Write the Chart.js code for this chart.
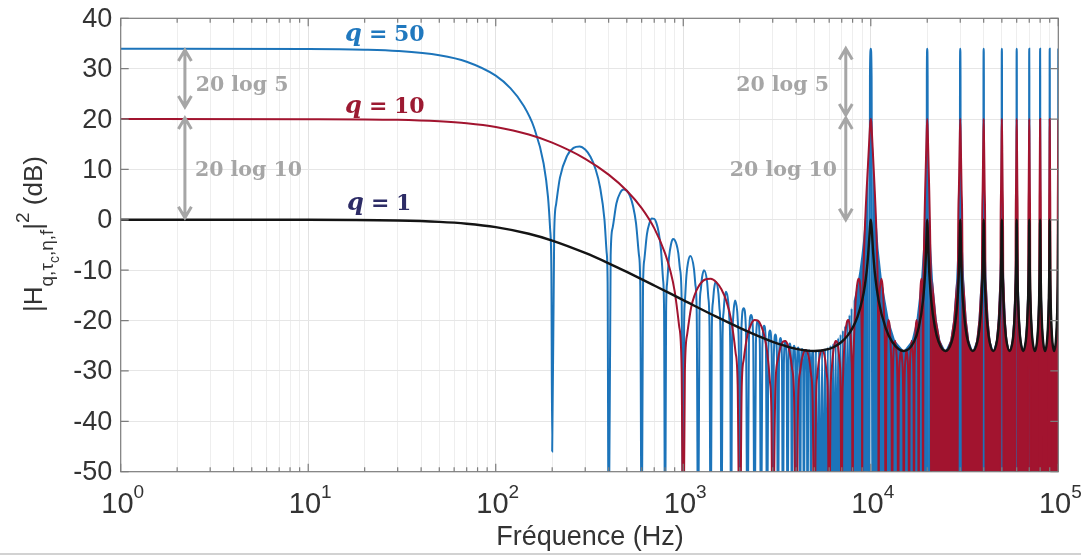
<!DOCTYPE html>
<html>
<head>
<meta charset="utf-8">
<script src="https://cdn.jsdelivr.net/npm/chart.js@4.4.0/dist/chart.umd.min.js"></script>
<style>
  html, body { margin: 0; padding: 0; background: #fff; }
</style>
</head>
<body>
<canvas id="myChart" width="1081" height="555"></canvas>
<script>
// [Hz, dB] points
const blackPts = [
  [1,0],[10,0],[30,-0.15],[50,-0.41],[70,-0.77],[100,-1.45],[150,-2.76],[200,-4.12],[300,-6.58],[400,-8.63],[500,-10.34],[700,-13.03],
  [1000,-15.94],[1500,-19.23],[2000,-21.45],[2500,-23.04],[3000,-24.21],[3500,-25.04],[4000,-25.61],[5000,-26.04],[6000,-25.61],[6500,-25.04],
  [7000,-24.21],[7500,-23.04],[8000,-21.45],[8500,-19.23],[9000,-15.94],[9300,-13.03],[9500,-10.34],[9600,-8.63],[9700,-6.58],[9800,-4.12],
  [9850,-2.76],[9900,-1.45],[9950,-0.41],[10000,0],
  [10100,-1.45],[10300,-6.58],[10500,-10.34],[11000,-15.94],[12000,-21.45],[13000,-24.21],[15000,-26.04],[17000,-24.21],[18000,-21.45],[19000,-15.94],[19500,-10.34],[19700,-6.58],[19900,-1.45],[20000,0],
  [20100,-1.45],[20300,-6.58],[20500,-10.34],[21000,-15.94],[22000,-21.45],[23000,-24.21],[25000,-26.04],[27000,-24.21],[28000,-21.45],[29000,-15.94],[29500,-10.34],[29700,-6.58],[29900,-1.45],[30000,0],
  [30100,-1.45],[30300,-6.58],[30500,-10.34],[31000,-15.94],[32000,-21.45],[33000,-24.21],[35000,-26.04],[37000,-24.21],[38000,-21.45],[39000,-15.94],[39500,-10.34],[39700,-6.58],[39900,-1.45],[40000,0],
  [40100,-1.45],[40300,-6.58],[40500,-10.34],[41000,-15.94],[42000,-21.45],[43000,-24.21],[45000,-26.04],[47000,-24.21],[48000,-21.45],[49000,-15.94],[49500,-10.34],[49700,-6.58],[49900,-1.45],[50000,0],
  [50100,-1.45],[50300,-6.58],[50500,-10.34],[51000,-15.94],[52000,-21.45],[53000,-24.21],[55000,-26.04],[57000,-24.21],[58000,-21.45],[59000,-15.94],[59500,-10.34],[59700,-6.58],[59900,-1.45],[60000,0],
  [60100,-1.45],[60300,-6.58],[60500,-10.34],[61000,-15.94],[62000,-21.45],[63000,-24.21],[65000,-26.04],[67000,-24.21],[68000,-21.45],[69000,-15.94],[69500,-10.34],[69700,-6.58],[69900,-1.45],[70000,0],
  [70100,-1.45],[70300,-6.58],[70500,-10.34],[71000,-15.94],[72000,-21.45],[73000,-24.21],[75000,-26.04],[77000,-24.21],[78000,-21.45],[79000,-15.94],[79500,-10.34],[79700,-6.58],[79900,-1.45],[80000,0],
  [80100,-1.45],[80300,-6.58],[80500,-10.34],[81000,-15.94],[82000,-21.45],[83000,-24.21],[85000,-26.04],[87000,-24.21],[88000,-21.45],[89000,-15.94],[89500,-10.34],[89700,-6.58],[89900,-1.45],[90000,0],
  [90100,-1.45],[90300,-6.58],[90500,-10.34],[91000,-15.94],[92000,-21.45],[93000,-24.21],[95000,-26.04],[97000,-24.21],[98000,-21.45],[99000,-15.94],[99500,-10.34],[99700,-6.58],[99900,-1.45],[100000,0]
];

const redPts = [
  [1,20],[10,19.98],[30,19.85],[50,19.55],[70,19.16],[100,18.41],[150,16.92],[200,15.31],[300,12.11],[400,8.97],[500,5.77],[600,2.33],
  [700,-1.65],[800,-6.65],[850,-9.9],[900,-14.19],[950,-21],[980,-29.5],[1000,-70],
  [1020,-30.1],[1050,-22.66],[1100,-17.52],[1150,-14.92],[1200,-13.37],[1300,-11.9],[1400,-11.7],[1500,-12.37],[1600,-13.83],[1700,-16.19],[1800,-19.85],[1900,-26.26],[1950,-32.6],[2000,-70],
  [2050,-33.3],[2100,-27.76],[2200,-22.85],[2300,-20.72],[2400,-19.91],[2500,-20.03],[2600,-21],[2700,-22.89],[2800,-26.14],[2900,-32.15],[2950,-38],[3000,-70],
  [3100,-32.95],[3200,-27.7],[3300,-25.28],[3400,-24.19],[3500,-24.04],[3600,-24.74],[3700,-26.4],[3800,-29.4],[3900,-35.2],[4000,-70],
  [4100,-35.5],[4200,-30.1],[4300,-27.5],[4500,-25.83],[4700,-27.8],[4800,-30.6],[4900,-36.2],[5000,-70],
  [5100,-36.2],[5200,-30.6],[5300,-27.8],[5500,-25.83],[5700,-27.5],[5800,-30.1],[5900,-35.5],[6000,-70],
  [6100,-35.2],[6200,-29.4],[6300,-26.4],[6400,-24.74],[6500,-24.04],[6600,-24.19],[6700,-25.28],[6800,-27.7],[6900,-32.95],[7000,-70],
  [7050,-38],[7100,-32.15],[7200,-26.14],[7300,-22.89],[7400,-21],[7500,-20.03],[7600,-19.91],[7700,-20.72],[7800,-22.85],[7900,-27.76],[7950,-33.3],[8000,-70],
  [8050,-32.6],[8100,-26.26],[8200,-19.85],[8300,-16.19],[8400,-13.83],[8500,-12.37],[8600,-11.7],[8700,-11.9],[8800,-13.37],[8850,-14.92],[8900,-17.52],[8950,-22.66],[8980,-30.1],[9000,-70],
  [9020,-29.5],[9050,-21],[9100,-14.19],[9150,-9.9],[9200,-6.65],[9300,-1.65],[9400,2.33],[9500,5.77],[9600,8.97],[9700,12.11],[9800,15.31],[9850,16.92],[9900,18.41],[9950,19.55],[10000,20],
  [10050,19.55],[10100,18.41],[10150,16.92],[10200,15.31],[10300,12.11],[10400,8.97],[10500,5.77],[10600,2.33],[10700,-1.65],[10800,-6.65],[10850,-9.9],[10900,-14.19],[10950,-21],[10980,-29.5],[11000,-70],
  [11100,-17.5],[11200,-13.4],[11400,-11.7],[11600,-13.8],[11800,-19.9],[11900,-26.3],[12000,-70],
  [12100,-27.8],[12200,-22.9],[12400,-19.9],[12600,-21],[12800,-26.1],[12900,-32.2],[13000,-70],
  [13100,-33],[13300,-25.3],[13500,-24],[13700,-26.4],[13900,-35.2],[14000,-70],
  [14100,-35.5],[14300,-27.5],[14500,-25.8],[14700,-27.8],[14900,-36.2],[15000,-70],
  [15100,-36.2],[15300,-27.8],[15500,-25.8],[15700,-27.5],[15900,-35.5],[16000,-70],
  [16100,-35.2],[16300,-26.4],[16500,-24],[16700,-25.3],[16900,-33],[17000,-70],
  [17100,-32.2],[17200,-26.1],[17400,-21],[17600,-19.9],[17800,-22.9],[17900,-27.8],[18000,-70],
  [18100,-26.3],[18200,-19.9],[18400,-13.8],[18600,-11.7],[18800,-13.4],[18900,-17.5],[19000,-70],
  [19100,-14.2],[19200,-6.7],[19300,-1.7],[19500,5.8],[19700,12.1],[19850,16.9],[20000,20],[20150,16.9],[20300,12.1],[20500,5.8],[20700,-1.7],[20800,-6.7],[20900,-14.2],[21000,-70],
  [29000,-70],[29200,-6.7],[29500,5.8],[29800,15.3],[30000,20],[30200,15.3],[30500,5.8],[30800,-6.7],[31000,-70],
  [39000,-70],[39200,-6.7],[39500,5.8],[39800,15.3],[40000,20],[40200,15.3],[40500,5.8],[40800,-6.7],[41000,-70],
  [49000,-70],[49200,-6.7],[49500,5.8],[49800,15.3],[50000,20],[50200,15.3],[50500,5.8],[50800,-6.7],[51000,-70],
  [59000,-70],[59200,-6.7],[59500,5.8],[59800,15.3],[60000,20],[60200,15.3],[60500,5.8],[60800,-6.7],[61000,-70],
  [69000,-70],[69200,-6.7],[69500,5.8],[69800,15.3],[70000,20],[70200,15.3],[70500,5.8],[70800,-6.7],[71000,-70],
  [79000,-70],[79200,-6.7],[79500,5.8],[79800,15.3],[80000,20],[80200,15.3],[80500,5.8],[80800,-6.7],[81000,-70],
  [89000,-70],[89200,-6.7],[89500,5.8],[89800,15.3],[90000,20],[90200,15.3],[90500,5.8],[90800,-6.7],[91000,-70],
  [99000,-70],[99200,-6.7],[99500,5.8],[99800,15.3],[100000,20]
];

// red side lobes too dense to separate above 20 kHz: outline of their tops
const redFillPts = [
  [21000,-50],[21100,-17.5],[21400,-11.7],[22450,-19.9],[23450,-23.9],[24500,-25.8],[25500,-25.8],[26550,-23.9],[27550,-19.9],[28600,-11.7],[28900,-17.5],[29000,-50],
  [31000,-50],[31100,-17.5],[31400,-11.7],[32450,-19.9],[33450,-23.9],[34500,-25.8],[35500,-25.8],[36550,-23.9],[37550,-19.9],[38600,-11.7],[38900,-17.5],[39000,-50],
  [41000,-50],[41100,-17.5],[41400,-11.7],[42450,-19.9],[43450,-23.9],[44500,-25.8],[45500,-25.8],[46550,-23.9],[47550,-19.9],[48600,-11.7],[48900,-17.5],[49000,-50],
  [51000,-50],[51100,-17.5],[51400,-11.7],[52450,-19.9],[53450,-23.9],[54500,-25.8],[55500,-25.8],[56550,-23.9],[57550,-19.9],[58600,-11.7],[58900,-17.5],[59000,-50],
  [61000,-50],[61100,-17.5],[61400,-11.7],[62450,-19.9],[63450,-23.9],[64500,-25.8],[65500,-25.8],[66550,-23.9],[67550,-19.9],[68600,-11.7],[68900,-17.5],[69000,-50],
  [71000,-50],[71100,-17.5],[71400,-11.7],[72450,-19.9],[73450,-23.9],[74500,-25.8],[75500,-25.8],[76550,-23.9],[77550,-19.9],[78600,-11.7],[78900,-17.5],[79000,-50],
  [81000,-50],[81100,-17.5],[81400,-11.7],[82450,-19.9],[83450,-23.9],[84500,-25.8],[85500,-25.8],[86550,-23.9],[87550,-19.9],[88600,-11.7],[88900,-17.5],[89000,-50],
  [91000,-50],[91100,-17.5],[91400,-11.7],[92450,-19.9],[93450,-23.9],[94500,-25.8],[95500,-25.8],[96550,-23.9],[97550,-19.9],[98600,-11.7],[98900,-17.5],[99000,-50]
];

const bluePts = [
  [1,33.98],[10,33.92],[20,33.77],[30,33.51],[50,32.66],[70,31.38],[100,28.61],[120,26.08],[140,22.81],[160,18.32],[180,11.18],[190,4.52],[195,-1.83],[198,-10],[200,-46],
  [205,-2.5],[210,3.17],[220,8.38],[240,12.7],[260,14.28],[280,14.57],[300,13.95],[320,12.51],[340,10.15],[360,6.47],[380,0.03],[390,-6.3],[395,-12.5],[400,-70],
  [410,-7.1],[420,-1.6],[440,3.25],[460,5.3],[480,6],[500,5.77],[520,4.7],[540,2.7],[560,-0.7],[580,-6.9],[590,-13.1],[600,-70],
  [610,-13.6],[620,-7.9],[640,-2.9],[660,-0.67],[680,0.24],[700,0.19],[720,-0.7],[740,-2.55],[760,-5.76],[780,-11.8],[790,-18],[800,-70],
  [810,-18.2],[820,-12.6],[840,-7.4],[860,-4.9],[880,-3.8],[900,-4],[940,-6.5],[960,-9.7],[980,-15.6],[1000,-70],
  [1010,-21.9],[1020,-16.3],[1040,-11],[1060,-8.5],[1090,-7.2],[1140,-9.7],[1160,-12.8],[1180,-18.7],[1200,-70],
  [1220,-19.2],[1240,-13.9],[1260,-11.4],[1290,-10],[1340,-12.3],[1360,-15.4],[1380,-21.2],[1400,-70],
  [1420,-21.7],[1440,-16.3],[1460,-13.7],[1490,-12.3],[1540,-14.6],[1560,-17.6],[1580,-23.4],[1600,-70],
  [1620,-23.8],[1640,-18.4],[1660,-15.8],[1690,-14.3],[1740,-16.5],[1760,-19.5],[1780,-25.3],[1800,-70],
  [1820,-25.6],[1840,-20.2],[1860,-17.6],[1890,-16],[1940,-18.2],[1960,-21.1],[1980,-26.9],[2000,-70],
  [2040,-22.2],[2100,-17.56],[2160,-22.2],[2200,-70],
  [2240,-23.5],[2300,-18.88],[2360,-23.5],[2400,-70],
  [2440,-24.6],[2500,-20.03],[2560,-24.6],[2600,-70],
  [2640,-25.6],[2700,-21.05],[2760,-25.6],[2800,-70],
  [2840,-26.5],[2900,-21.95],[2960,-26.5],[3000,-70],
  [3040,-27.3],[3100,-22.75],[3160,-27.3],[3200,-70],
  [3240,-28],[3300,-23.44],[3360,-28],[3400,-70],
  [3440,-28.6],[3500,-24.04],[3560,-28.6],[3600,-70],
  [3640,-29.1],[3700,-24.55],[3760,-29.1],[3800,-70],
  [3840,-29.6],[3900,-24.99],[3960,-29.6],[4000,-70],
  [4040,-29.9],[4100,-25.34],[4160,-29.9],[4200,-70],
  [4240,-30.2],[4300,-25.62],[4360,-30.2],[4400,-70],
  [4440,-30.4],[4500,-25.83],[4560,-30.4],[4600,-70],
  [4640,-30.6],[4700,-25.96],[4760,-30.6],[4800,-70],
  [4840,-30.6],[4900,-26.04],[4960,-30.6],[5000,-70],
  [5100,-26.04],[5200,-70],[5300,-25.96],[5400,-70],[5500,-25.83],[5600,-70],[5700,-25.62],[5800,-70],[5900,-25.34],[6000,-70],
  [6100,-24.99],[6200,-70],[6300,-24.55],[6400,-70],[6500,-24.04],[6600,-70],[6700,-23.44],[6800,-70],[6900,-22.75],[7000,-70],
  [7100,-21.95],[7200,-70],[7300,-21.05],[7400,-70],[7500,-20.03],[7600,-70],[7700,-18.88],[7800,-70],[7900,-17.56],[8000,-70],
  [9800,-70],[9900,28.61],[10000,33.98],[10100,28.61],[10200,-70],
  [19800,-70],[19900,28.61],[20000,33.98],[20100,28.61],[20200,-70],
  [29800,-70],[29900,28.61],[30000,33.98],[30100,28.61],[30200,-70],
  [39800,-70],[39900,28.61],[40000,33.98],[40100,28.61],[40200,-70],
  [49800,-70],[49900,28.61],[50000,33.98],[50100,28.61],[50200,-70],
  [59800,-70],[59900,28.61],[60000,33.98],[60100,28.61],[60200,-70],
  [69800,-70],[69900,28.61],[70000,33.98],[70100,28.61],[70200,-70],
  [79800,-70],[79900,28.61],[80000,33.98],[80100,28.61],[80200,-70],
  [89800,-70],[89900,28.61],[90000,33.98],[90100,28.61],[90200,-70],
  [99800,-70],[99900,28.61],[100000,33.98]
];

// blue side lobes above 8 kHz merge into a solid band: outline of their tops
const blueFillPts = [
  [8000,-50],[8100,-16.1],[8300,-14.4],[8500,-12.4],[8700,-10.1],[8900,-7.3],[9100,-4],[9300,0.2],[9500,5.8],[9720,14.6],[9800,-50],
  [10200,-50],[10280,14.6],[10500,6.2],[10700,0.5],[11000,-5.7],[11500,-12.3],[12500,-20],[13500,-24],[15000,-26],[16500,-24],[17500,-20],[18500,-12.3],[19000,-5.7],[19300,0.5],[19500,6.2],[19720,14.6],[19800,-50],
  [20200,-50],[20280,14.6],[20500,6.2],[20700,0.5],[21000,-5.7],[21500,-12.3],[22500,-20],[23500,-24],[25000,-26],[26500,-24],[27500,-20],[28500,-12.3],[29000,-5.7],[29300,0.5],[29500,6.2],[29720,14.6],[29800,-50],
  [30200,-50],[30280,14.6],[30500,6.2],[30700,0.5],[31000,-5.7],[31500,-12.3],[32500,-20],[33500,-24],[35000,-26],[36500,-24],[37500,-20],[38500,-12.3],[39000,-5.7],[39300,0.5],[39500,6.2],[39720,14.6],[39800,-50],
  [40200,-50],[40280,14.6],[40500,6.2],[40700,0.5],[41000,-5.7],[41500,-12.3],[42500,-20],[43500,-24],[45000,-26],[46500,-24],[47500,-20],[48500,-12.3],[49000,-5.7],[49300,0.5],[49500,6.2],[49720,14.6],[49800,-50],
  [50200,-50],[50280,14.6],[50500,6.2],[50700,0.5],[51000,-5.7],[51500,-12.3],[52500,-20],[53500,-24],[55000,-26],[56500,-24],[57500,-20],[58500,-12.3],[59000,-5.7],[59300,0.5],[59500,6.2],[59720,14.6],[59800,-50],
  [60200,-50],[60280,14.6],[60500,6.2],[60700,0.5],[61000,-5.7],[61500,-12.3],[62500,-20],[63500,-24],[65000,-26],[66500,-24],[67500,-20],[68500,-12.3],[69000,-5.7],[69300,0.5],[69500,6.2],[69720,14.6],[69800,-50],
  [70200,-50],[70280,14.6],[70500,6.2],[70700,0.5],[71000,-5.7],[71500,-12.3],[72500,-20],[73500,-24],[75000,-26],[76500,-24],[77500,-20],[78500,-12.3],[79000,-5.7],[79300,0.5],[79500,6.2],[79720,14.6],[79800,-50],
  [80200,-50],[80280,14.6],[80500,6.2],[80700,0.5],[81000,-5.7],[81500,-12.3],[82500,-20],[83500,-24],[85000,-26],[86500,-24],[87500,-20],[88500,-12.3],[89000,-5.7],[89300,0.5],[89500,6.2],[89720,14.6],[89800,-50],
  [90200,-50],[90280,14.6],[90500,6.2],[90700,0.5],[91000,-5.7],[91500,-12.3],[92500,-20],[93500,-24],[95000,-26],[96500,-24],[97500,-20],[98500,-12.3],[99000,-5.7],[99300,0.5],[99500,6.2],[99720,14.6],[99800,-50]
];

const xTickHz = [1,2,3,4,5,6,7,8,9,10,20,30,40,50,60,70,80,90,100,200,300,400,500,600,700,800,900,
  1000,2000,3000,4000,5000,6000,7000,8000,9000,10000,20000,30000,40000,50000,60000,70000,80000,90000,100000];
const xLabelHz = [1,10,100,1000,10000,100000];
const xLabelExp = ['0','1','2','3','4','5'];

const blue = '#1c74ba';
const red = '#a2142f';
const black = '#141414';

// labels placed in data coordinates [Hz, dB]
const curveLabels = [
  { hz: 15.7, db: 35.4, num: '50', color: '#2078be' },
  { hz: 15.7, db: 21.2, num: '10', color: '#9c1a32' },
  { hz: 16.1, db: 2.0, num: '1', color: '#2d2c66' }
];
const gapArrows = [
  { hz: 2.2, top: 33.7, bottom: 22.4 }, { hz: 2.2, top: 20.2, bottom: 0.4 },
  { hz: 7357, top: 34, bottom: 20.8 }, { hz: 7357, top: 20.2, bottom: 0 }
];
const gapTexts = [
  { hz: 4.44, db: 25.6, text: '20 log 5' }, { hz: 4.8, db: 8.6, text: '20 log 10' },
  { hz: 3385, db: 25.6, text: '20 log 5' }, { hz: 3419, db: 8.6, text: '20 log 10' }
];

const xy = pts => pts.map(p => ({ x: p[0], y: p[1] }));
const sans = '"Liberation Sans", Arial, sans-serif';

const decor = {
  id: 'decor',
  afterDraw(chart) {
    const { ctx, chartArea: a, scales: { x, y } } = chart;
    ctx.save();

    // axes box with inward ticks
    ctx.strokeStyle = '#7d7d7d';
    ctx.lineWidth = 1.2;
    ctx.strokeRect(a.left, a.top, a.right - a.left, a.bottom - a.top);
    ctx.beginPath();
    x.ticks.forEach(t => {
      const px = x.getPixelForValue(t.value);
      const len = xLabelHz.includes(t.value) ? 8 : 4.5;
      ctx.moveTo(px, a.bottom); ctx.lineTo(px, a.bottom - len);
      ctx.moveTo(px, a.top); ctx.lineTo(px, a.top + len);
    });
    y.ticks.forEach(t => {
      const py = y.getPixelForValue(t.value);
      ctx.moveTo(a.left, py); ctx.lineTo(a.left + 8, py);
      ctx.moveTo(a.right, py); ctx.lineTo(a.right - 8, py);
    });
    ctx.stroke();

    // y tick labels
    ctx.fillStyle = '#333333';
    ctx.font = '27px ' + sans;
    ctx.textAlign = 'right';
    ctx.textBaseline = 'middle';
    y.ticks.forEach(t => {
      ctx.fillText(String(t.value), a.left - 8.5, y.getPixelForValue(t.value) + 1);
    });

    // x tick labels 10^n
    ctx.textAlign = 'left';
    ctx.textBaseline = 'alphabetic';
    xLabelHz.forEach((v, i) => {
      const px = x.getPixelForValue(v);
      ctx.font = '29px ' + sans;
      const w1 = ctx.measureText('10').width;
      ctx.font = '19px ' + sans;
      const w2 = ctx.measureText(xLabelExp[i]).width;
      const x0 = px - (w1 + w2) / 2 + 2;
      ctx.font = '29px ' + sans;
      ctx.fillText('10', x0, 513);
      ctx.font = '19px ' + sans;
      ctx.fillText(xLabelExp[i], x0 + w1, 498);
    });

    // x title
    ctx.font = '27px ' + sans;
    ctx.textAlign = 'center';
    ctx.fillText('Fréquence (Hz)', 590, 545);
    ctx.textAlign = 'left';

    // y title
    const parts = [
      ['|H', 26, 0], ['q,τ', 19, 11], ['c', 14, 17], [',η,f', 19, 11],
      ['|', 26, 0], ['2', 19, -13], [' (dB)', 26, 0]
    ];
    ctx.save();
    ctx.translate(42, 234);
    ctx.rotate(-Math.PI / 2);
    let total = 0;
    parts.forEach(p => {
      ctx.font = p[1] + 'px ' + sans;
      total += ctx.measureText(p[0]).width;
    });
    let cx = -total / 2;
    parts.forEach(p => {
      ctx.font = p[1] + 'px ' + sans;
      ctx.fillText(p[0], cx, p[2]);
      cx += ctx.measureText(p[0]).width;
    });
    ctx.restore();

    // curve labels
    curveLabels.forEach(l => {
      const px = x.getPixelForValue(l.hz);
      const py = y.getPixelForValue(l.db);
      ctx.fillStyle = l.color;
      ctx.font = 'italic bold 24px "DejaVu Serif", serif';
      ctx.fillText('q', px, py);
      ctx.font = 'bold 22px "DejaVu Serif", serif';
      ctx.fillText('=', px + 24, py);
      ctx.fillText(l.num, px + 49, py);
    });

    // double arrows and gap texts
    ctx.strokeStyle = '#a6a6a6';
    ctx.lineWidth = 3;
    gapArrows.forEach(g => {
      const px = x.getPixelForValue(g.hz);
      const y1 = y.getPixelForValue(g.top);
      const y2 = y.getPixelForValue(g.bottom);
      ctx.beginPath();
      ctx.moveTo(px, y1 + 1); ctx.lineTo(px, y2 - 1);
      ctx.moveTo(px - 6.5, y1 + 11); ctx.lineTo(px, y1); ctx.lineTo(px + 6.5, y1 + 11);
      ctx.moveTo(px - 6.5, y2 - 11); ctx.lineTo(px, y2); ctx.lineTo(px + 6.5, y2 - 11);
      ctx.stroke();
    });
    ctx.fillStyle = '#a6a6a6';
    ctx.font = 'bold 20.5px "DejaVu Serif", serif';
    ctx.textAlign = 'center';
    gapTexts.forEach(g => {
      ctx.fillText(g.text, x.getPixelForValue(g.hz), y.getPixelForValue(g.db));
    });

    // bottom edge line of the picture
    ctx.fillStyle = '#d2d2d2';
    ctx.fillRect(0, 553, 1081, 2);
    ctx.restore();
  }
};

const ctx = document.getElementById('myChart');
Chart.defaults.font.family = sans;

new Chart(ctx, {
  type: 'line',
  data: {
    datasets: [
      { label: 'q = 1', data: xy(blackPts), borderColor: black, borderWidth: 2.4, order: 0,
        cubicInterpolationMode: 'monotone', fill: false },
      { label: 'q = 10', data: xy(redPts), borderColor: red, borderWidth: 2, order: 1,
        cubicInterpolationMode: 'monotone', fill: false },
      { label: 'q = 10 band', data: xy(redFillPts), borderColor: 'rgba(0,0,0,0)', borderWidth: 0,
        backgroundColor: red, fill: { value: -50 }, order: 2 },
      { label: 'q = 50', data: xy(bluePts), borderColor: blue, borderWidth: 2, order: 3,
        cubicInterpolationMode: 'monotone', fill: false },
      { label: 'q = 50 band', data: xy(blueFillPts), borderColor: 'rgba(0,0,0,0)', borderWidth: 0,
        backgroundColor: blue, fill: { value: -50 }, order: 4 }
    ]
  },
  options: {
    responsive: false,
    animation: false,
    events: [],
    elements: { point: { radius: 0 } },
    layout: { padding: { left: 0, top: 18.3, right: 22.7, bottom: 0 } },
    plugins: { legend: { display: false }, tooltip: { enabled: false } },
    scales: {
      x: {
        type: 'logarithmic',
        min: 1,
        max: 100000,
        afterBuildTicks: s => { s.ticks = xTickHz.map(v => ({ value: v })); },
        afterFit: s => { s.height = 83.3; },
        ticks: { display: false, autoSkip: false },
        border: { display: false },
        grid: {
          drawTicks: false,
          color: c => (c.tick && xLabelHz.includes(c.tick.value)) ? '#e2e2e2' : '#eeeeee'
        }
      },
      y: {
        min: -50,
        max: 40,
        afterFit: s => { s.width = 120.7; },
        ticks: { stepSize: 10, display: false },
        border: { display: false },
        grid: { drawTicks: false, color: '#e6e6e6' }
      }
    }
  },
  plugins: [decor]
});
</script>
</body>
</html>
